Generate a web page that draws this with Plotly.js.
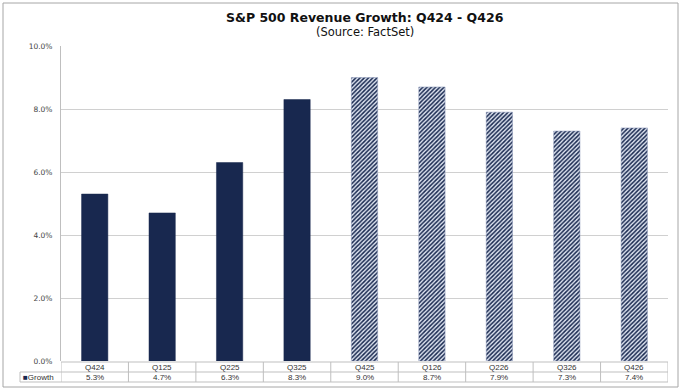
<!DOCTYPE html>
<html>
<head>
<meta charset="utf-8">
<script src="https://cdn.plot.ly/plotly-3.0.1.min.js"></script>
<style>html,body{margin:0;padding:0;background:#fff;}#chart{width:681px;height:390px;}</style>
</head>
<body>
<div id="chart"></div>
<script>
const categories = ["Q424","Q125","Q225","Q325","Q425","Q126","Q226","Q326","Q426"];
const growth = [5.3, 4.7, 6.3, 8.3, 9.0, 8.7, 7.9, 7.3, 7.4];
const isEstimate = [false, false, false, false, true, true, true, true, true];
const seriesName = "Growth";
const yTicks = [0, 2, 4, 6, 8, 10];

const navy = "#18284f";
const plotH = 315;
function py(px){ return -px / plotH; } // pixels below plot bottom -> paper y

const actualTrace = {
  type: "bar",
  x: categories.filter((c, i) => !isEstimate[i]),
  y: growth.filter((v, i) => !isEstimate[i]),
  width: 0.39,
  marker: {color: navy, line: {color: navy, width: 0.5}},
  hoverinfo: "skip"
};
const estimateTrace = {
  type: "bar",
  x: categories.filter((c, i) => isEstimate[i]),
  y: growth.filter((v, i) => isEstimate[i]),
  width: 0.39,
  marker: {
    color: "#ffffff",
    line: {color: "#8a97b8", width: 0.5},
    pattern: {shape: "/", fgcolor: navy, bgcolor: "#dfe5f2", size: 3, solidity: 0.5, fillmode: "replace"}
  },
  hoverinfo: "skip"
};

const shapes = [];
const annotations = [];
const lineStyle = {color: "#bfbfbf", width: 1};
shapes.push({type:"line", xref:"x", yref:"paper", x0:-0.5, x1:8.5, y0:py(1), y1:py(1), line:lineStyle});
shapes.push({type:"line", xref:"x", yref:"paper", x0:-0.5, x1:8.5, y0:py(11), y1:py(11), line:lineStyle});
shapes.push({type:"line", xref:"paper", yref:"paper", x0:-41/607, x1:1, y0:py(21), y1:py(21), line:lineStyle});
shapes.push({type:"line", xref:"paper", yref:"paper", x0:-41/607, x1:0, y0:py(11), y1:py(11), line:lineStyle});
shapes.push({type:"line", xref:"paper", yref:"paper", x0:-41/607, x1:-41/607, y0:py(11), y1:py(21), line:lineStyle});
for (let i = 0; i <= categories.length; i++) {
  shapes.push({type:"line", xref:"x", yref:"paper", x0:i-0.5, x1:i-0.5, y0:py(1), y1:py(21), line:lineStyle});
}
shapes.push({type:"rect", xref:"paper", yref:"paper", x0:-58/607, x1:(607+10)/607, y0:py(26), y1:(315+43)/315, line:{color:"#a6a6a6", width:1}});

const tFont = {family:"Liberation Sans, Arial", size:8, color:"#333"};
categories.forEach((c, i) => {
  annotations.push({xref:"x", yref:"paper", x:c, y:py(6), text:c, showarrow:false, yanchor:"middle", xanchor:"center", font:tFont});
  annotations.push({xref:"x", yref:"paper", x:c, y:py(16), text:growth[i].toFixed(1)+"%", showarrow:false, yanchor:"middle", xanchor:"center", font:tFont});
});
annotations.push({xref:"paper", yref:"paper", x:-40/607, y:py(16), text:"<span style='color:"+navy+"'>■</span>"+seriesName, showarrow:false, yanchor:"middle", xanchor:"left", font:tFont});
annotations.push({xref:"paper", yref:"paper", x:0.5, y:(315+28.5)/315, text:"<b>S&P 500 Revenue Growth: Q424 - Q426</b>", showarrow:false, yanchor:"middle", xanchor:"center", font:{family:"DejaVu Sans", size:12.5, color:"#111"}});
annotations.push({xref:"paper", yref:"paper", x:0.5, y:(315+13.5)/315, text:"(Source: FactSet)", showarrow:false, yanchor:"middle", xanchor:"center", font:{family:"DejaVu Sans", size:11.5, color:"#111"}});

const layout = {
  width: 681, height: 390,
  margin: {l:61, r:13, t:46, b:29, pad:0},
  paper_bgcolor: "#ffffff",
  plot_bgcolor: "#ffffff",
  showlegend: false,
  barmode: "overlay",
  xaxis: {type:"category", categoryorder:"array", categoryarray:categories, showticklabels:false, ticks:"", showgrid:false, zeroline:false, showline:false, range:[-0.5, 8.5], fixedrange:true},
  yaxis: {range:[0,10], tickvals:yTicks, ticktext:yTicks.map(v => v.toFixed(1)+"%"), showgrid:true, gridcolor:"#d0d0d0", gridwidth:1,
          zeroline:false, showline:true, linecolor:"#bfbfbf", linewidth:1, ticks:"", ticklabelstandoff:6,
          tickfont:{family:"DejaVu Sans", size:7.5, color:"#444"}},
  shapes: shapes,
  annotations: annotations
};

Plotly.newPlot("chart", [actualTrace, estimateTrace], layout, {displayModeBar:false, staticPlot:true});
</script>
</body>
</html>
